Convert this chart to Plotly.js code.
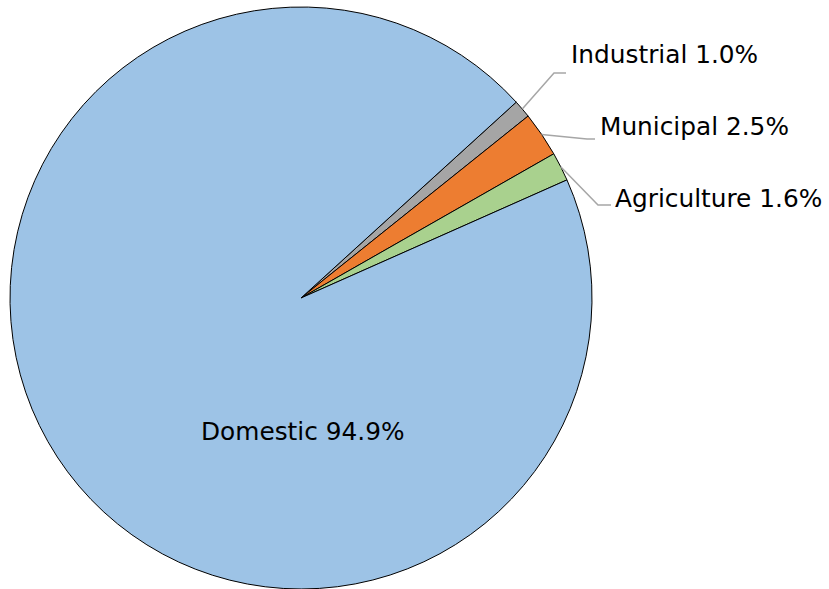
<!DOCTYPE html>
<html>
<head>
<meta charset="utf-8">
<script src="https://cdn.plot.ly/plotly-3.0.1.min.js"></script>
<style>html,body{margin:0;padding:0;background:#fff;}#chart{width:829px;height:589px;}</style>
</head>
<body>
<div id="chart"></div>
<script>
// Data
const categories = ["Industrial", "Municipal", "Agriculture", "Domestic"];
const shares = [1.0, 2.5, 1.6, 94.9];
const colors = ["#a5a5a5", "#ed7d31", "#a9d18e", "#9dc3e6"];

// Layout constants (pixels)
const W = 829, H = 589;
const cx = 301, cy = 298, R = 291;
const rotationDeg = 47.7;
const fontSize = 24.8;

// label layout: [text-left-x, text-mid-y, elbow-x, elbow-y, end-x]
const labelLayout = [
  [569, 55, 554, 73, 566],
  [598, 126, 587, 139, 595],
  [613, 198, 598, 205, 611],
  [199, 431, null, null, null]
];

const px = x => x / W;
const py = y => 1 - y / H;

const total = shares.reduce((a, b) => a + b, 0);
const annotations = [];
const shapes = [];
let acc = 0;
shares.forEach((v, i) => {
  const midDeg = rotationDeg + (acc + v / 2) / total * 360;
  acc += v;
  const a = midDeg * Math.PI / 180;
  const L = labelLayout[i];
  annotations.push({
    x: px(L[0]), y: py(L[1]), xref: "paper", yref: "paper",
    xanchor: "left", yanchor: "middle", showarrow: false,
    text: categories[i] + " " + v.toFixed(1) + "%",
    font: {family: "DejaVu Sans", size: fontSize, color: "#000"}
  });
  if (L[2] !== null) {
    const sx = cx + R * Math.sin(a), sy = cy - R * Math.cos(a);
    shapes.push({
      type: "path", xref: "paper", yref: "paper",
      path: `M ${px(sx)} ${py(sy)} L ${px(L[2])} ${py(L[3])} L ${px(L[4])} ${py(L[3])}`,
      line: {color: "#a6a6a6", width: 1.5}
    });
  }
});

const trace = {
  type: "pie",
  labels: categories,
  values: shares,
  sort: false,
  direction: "clockwise",
  rotation: rotationDeg,
  textinfo: "none",
  hoverinfo: "label+percent",
  marker: {colors: colors, line: {color: "#000", width: 1}},
  domain: {x: [(cx - R) / W, (cx + R) / W], y: [1 - (cy + R) / H, 1 - (cy - R) / H]}
};

Plotly.newPlot("chart", [trace], {
  width: W, height: H,
  margin: {l: 0, r: 0, t: 0, b: 0},
  showlegend: false,
  paper_bgcolor: "#fff",
  annotations: annotations,
  shapes: shapes
}, {displayModeBar: false, staticPlot: true});
</script>
</body>
</html>
